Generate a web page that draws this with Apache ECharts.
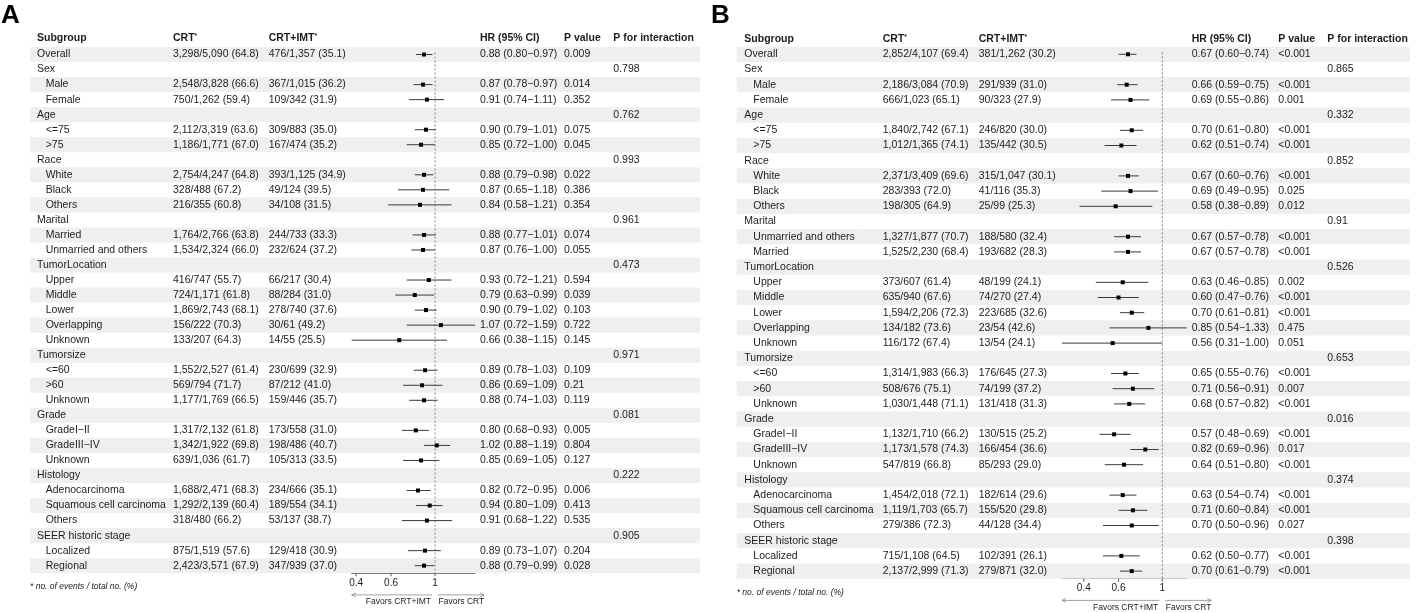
<!DOCTYPE html>
<html><head><meta charset="utf-8">
<script src="https://cdn.jsdelivr.net/npm/echarts@6/dist/echarts.min.js"></script>
<style>html,body{margin:0;padding:0;background:#fff}#c{width:1417px;height:613px}</style>
</head><body><div id="c"></div>
<script>
// ---------------- DATA ----------------
const rowLabelsA = ['Overall','Sex','Male','Female','Age','<=75','>75','Race','White','Black','Others','Marital','Married','Unmarried and others','TumorLocation','Upper','Middle','Lower','Overlapping','Unknown','Tumorsize','<=60','>60','Unknown','Grade','GradeI\u2212II','GradeIII\u2212IV','Unknown','Histology','Adenocarcinoma','Squamous cell carcinoma','Others','SEER historic stage','Localized','Regional'];
const rowLabelsB = ['Overall','Sex','Male','Female','Age','<=75','>75','Race','White','Black','Others','Marital','Unmarried and others','Married','TumorLocation','Upper','Middle','Lower','Overlapping','Unknown','Tumorsize','<=60','>60','Unknown','Grade','GradeI\u2212II','GradeIII\u2212IV','Unknown','Histology','Adenocarcinoma','Squamous cell carcinoma','Others','SEER historic stage','Localized','Regional'];
const rowLevel = [0,0,1,1,0,1,1,0,1,1,1,0,1,1,0,1,1,1,1,1,0,1,1,1,0,1,1,1,0,1,1,1,0,1,1];

const crtA = ['3,298/5,090 (64.8)','','2,548/3,828 (66.6)','750/1,262 (59.4)','','2,112/3,319 (63.6)','1,186/1,771 (67.0)','','2,754/4,247 (64.8)','328/488 (67.2)','216/355 (60.8)','','1,764/2,766 (63.8)','1,534/2,324 (66.0)','','416/747 (55.7)','724/1,171 (61.8)','1,869/2,743 (68.1)','156/222 (70.3)','133/207 (64.3)','','1,552/2,527 (61.4)','569/794 (71.7)','1,177/1,769 (66.5)','','1,317/2,132 (61.8)','1,342/1,922 (69.8)','639/1,036 (61.7)','','1,688/2,471 (68.3)','1,292/2,139 (60.4)','318/480 (66.2)','','875/1,519 (57.6)','2,423/3,571 (67.9)'];
const imtA = ['476/1,357 (35.1)','','367/1,015 (36.2)','109/342 (31.9)','','309/883 (35.0)','167/474 (35.2)','','393/1,125 (34.9)','49/124 (39.5)','34/108 (31.5)','','244/733 (33.3)','232/624 (37.2)','','66/217 (30.4)','88/284 (31.0)','278/740 (37.6)','30/61 (49.2)','14/55 (25.5)','','230/699 (32.9)','87/212 (41.0)','159/446 (35.7)','','173/558 (31.0)','198/486 (40.7)','105/313 (33.5)','','234/666 (35.1)','189/554 (34.1)','53/137 (38.7)','','129/418 (30.9)','347/939 (37.0)'];
const hrA = [0.88,null,0.87,0.91,null,0.90,0.85,null,0.88,0.87,0.84,null,0.88,0.87,null,0.93,0.79,0.90,1.07,0.66,null,0.89,0.86,0.88,null,0.80,1.02,0.85,null,0.82,0.94,0.91,null,0.89,0.88];
const loA = [0.80,null,0.78,0.74,null,0.79,0.72,null,0.79,0.65,0.58,null,0.77,0.76,null,0.72,0.63,0.79,0.72,0.38,null,0.78,0.69,0.74,null,0.68,0.88,0.69,null,0.72,0.80,0.68,null,0.73,0.79];
const hiA = [0.97,null,0.97,1.11,null,1.01,1.00,null,0.98,1.18,1.21,null,1.01,1.00,null,1.21,0.99,1.02,1.59,1.15,null,1.03,1.09,1.03,null,0.93,1.19,1.05,null,0.95,1.09,1.22,null,1.07,0.99];
const pA = ['0.009','','0.014','0.352','','0.075','0.045','','0.022','0.386','0.354','','0.074','0.055','','0.594','0.039','0.103','0.722','0.145','','0.109','0.21','0.119','','0.005','0.804','0.127','','0.006','0.413','0.535','','0.204','0.028'];
const pintA = ['','0.798','','','0.762','','','0.993','','','','0.961','','','0.473','','','','','','0.971','','','','0.081','','','','0.222','','','','0.905','',''];

const crtB = ['2,852/4,107 (69.4)','','2,186/3,084 (70.9)','666/1,023 (65.1)','','1,840/2,742 (67.1)','1,012/1,365 (74.1)','','2,371/3,409 (69.6)','283/393 (72.0)','198/305 (64.9)','','1,327/1,877 (70.7)','1,525/2,230 (68.4)','','373/607 (61.4)','635/940 (67.6)','1,594/2,206 (72.3)','134/182 (73.6)','116/172 (67.4)','','1,314/1,983 (66.3)','508/676 (75.1)','1,030/1,448 (71.1)','','1,132/1,710 (66.2)','1,173/1,578 (74.3)','547/819 (66.8)','','1,454/2,018 (72.1)','1,119/1,703 (65.7)','279/386 (72.3)','','715/1,108 (64.5)','2,137/2,999 (71.3)'];
const imtB = ['381/1,262 (30.2)','','291/939 (31.0)','90/323 (27.9)','','246/820 (30.0)','135/442 (30.5)','','315/1,047 (30.1)','41/116 (35.3)','25/99 (25.3)','','188/580 (32.4)','193/682 (28.3)','','48/199 (24.1)','74/270 (27.4)','223/685 (32.6)','23/54 (42.6)','13/54 (24.1)','','176/645 (27.3)','74/199 (37.2)','131/418 (31.3)','','130/515 (25.2)','166/454 (36.6)','85/293 (29.0)','','182/614 (29.6)','155/520 (29.8)','44/128 (34.4)','','102/391 (26.1)','279/871 (32.0)'];
const hrB = [0.67,null,0.66,0.69,null,0.70,0.62,null,0.67,0.69,0.58,null,0.67,0.67,null,0.63,0.60,0.70,0.85,0.56,null,0.65,0.71,0.68,null,0.57,0.82,0.64,null,0.63,0.71,0.70,null,0.62,0.70];
const loB = [0.60,null,0.59,0.55,null,0.61,0.51,null,0.60,0.49,0.38,null,0.57,0.57,null,0.46,0.47,0.61,0.54,0.31,null,0.55,0.56,0.57,null,0.48,0.69,0.51,null,0.54,0.60,0.50,null,0.50,0.61];
const hiB = [0.74,null,0.75,0.86,null,0.80,0.74,null,0.76,0.95,0.89,null,0.78,0.78,null,0.85,0.76,0.81,1.33,1.00,null,0.76,0.91,0.82,null,0.69,0.96,0.80,null,0.74,0.84,0.96,null,0.77,0.79];
const pB = ['<0.001','','<0.001','0.001','','<0.001','<0.001','','<0.001','0.025','0.012','','<0.001','<0.001','','0.002','<0.001','<0.001','0.475','0.051','','<0.001','0.007','<0.001','','<0.001','0.017','<0.001','','<0.001','<0.001','0.027','','<0.001','<0.001'];
const pintB = ['','0.865','','','0.332','','','0.852','','','','0.91','','','0.526','','','','','','0.653','','','','0.016','','','','0.374','','','','0.398','',''];

const tickValues = [0.4, 0.6, 1];
const tickLabels = ['0.4', '0.6', '1'];

// ---------------- LAYOUT ----------------
const FONT = '"Liberation Sans", Arial, Helvetica, sans-serif';
const TXT = '#1c1c1c';
const FS = 10.5;
const panels = [
  {name:'A', labels:rowLabelsA, crt:crtA, imt:imtA, hr:hrA, lo:loA, hi:hiA, p:pA, pint:pintA,
   L:{grid:{left:351.7, width:123.3, top:47, height:526.2}, letterX:1, sub:37, ind:45.7, crt:173, imt:268.7, hr:480, p:564, pint:613.3, shadeL:30, shadeR:700, headerY:38.3, footY:586.7}},
  {name:'B', labels:rowLabelsB, crt:crtB, imt:imtB, hr:hrB, lo:loB, hi:hiB, p:pB, pint:pintB,
   L:{grid:{left:1062, width:124.7, top:46.7, height:532}, letterX:711, sub:744.3, ind:753.3, crt:882.7, imt:978.7, hr:1191.7, p:1278.3, pint:1327.3, shadeL:736.7, shadeR:1410, headerY:39, footY:592.3}}
];

function txt(x, y, text, opt) {
  opt = opt || {};
  return {type:'text', x:x, y:y, silent:true, style:Object.assign({
    text:text, fill:TXT, fontSize:FS, fontFamily:FONT,
    align:'left', verticalAlign:'middle', textAlign:'left', textVerticalAlign:'middle'}, opt)};
}
function fmt(v){ return v.toFixed(2); }

const grids = [], xAxes = [], yAxes = [], series = [], graphics = [];
panels.forEach((P, k) => {
  const L = P.L;
  const ciLo = P.lo.filter(v => v != null), ciHi = P.hi.filter(v => v != null);
  const xmin = Math.min.apply(null, ciLo), xmax = Math.max.apply(null, ciHi);
  grids.push(Object.assign({containLabel:false, outerBoundsMode:'none'}, L.grid));
  xAxes.push({type:'log', logBase:10, gridIndex:k, min:xmin, max:xmax,
    axisLine:{show:true, lineStyle:{color:'#555', width:1}}, axisTick:{show:false},
    axisLabel:{show:false}, splitLine:{show:false}});
  yAxes.push({type:'category', gridIndex:k, inverse:true, data:P.labels.map((_, i) => String(i)),
    show:false});

  const rowH = L.grid.height / P.labels.length;
  // table rows (background + text)
  series.push({type:'custom', xAxisIndex:k, yAxisIndex:k, z:1, silent:true, clip:false, animation:false,
    data:P.labels.map((_, i) => [1, i]),
    renderItem:function(params, api){
      const i = api.value(1);
      const y = api.coord([1, i])[1];
      const ch = [];
      if (i % 2 === 0) ch.push({type:'rect', shape:{x:L.shadeL, y:y - rowH/2, width:L.shadeR - L.shadeL, height:rowH}, style:{fill:'#eef0ee'}});
      ch.push(txt(rowLevel[i] ? L.ind : L.sub, y, P.labels[i]));
      if (P.crt[i]) ch.push(txt(L.crt, y, P.crt[i]));
      if (P.imt[i]) ch.push(txt(L.imt, y, P.imt[i]));
      if (P.hr[i] != null) ch.push(txt(L.hr, y, fmt(P.hr[i]) + ' (' + fmt(P.lo[i]) + '\u2212' + fmt(P.hi[i]) + ')'));
      if (P.p[i]) ch.push(txt(L.p, y, P.p[i]));
      if (P.pint[i]) ch.push(txt(L.pint, y, P.pint[i]));
      return {type:'group', children:ch};
    }});
  // decorations: reference line, ticks, arrows
  series.push({type:'custom', xAxisIndex:k, yAxisIndex:k, z:2, silent:true, clip:false, animation:false,
    data:[[1, 0]],
    renderItem:function(params, api){
      const ch = [];
      const p1 = api.coord([1, 0]);
      const last = api.coord([1, P.labels.length - 1]);
      const axisY = last[1] + rowH/2;
      ch.push({type:'line', shape:{x1:p1[0], y1:p1[1] - 2, x2:p1[0], y2:axisY}, style:{stroke:'#777', lineWidth:0.9, lineDash:[2,2]}});
      tickValues.forEach((tv, j) => {
        const tx = api.coord([tv, 0])[0];
        ch.push({type:'line', shape:{x1:tx, y1:axisY, x2:tx, y2:axisY + 3}, style:{stroke:'#555', lineWidth:1}});
        ch.push(txt(tx, axisY + 10, tickLabels[j], {align:'center', textAlign:'center', fontSize:10}));
      });
      const xL = api.coord([xmin, 0])[0];
      const ay = axisY + 21.7;
      const ac = '#8a8a8a';
      ch.push({type:'line', shape:{x1:xL, y1:ay, x2:p1[0] - 3, y2:ay}, style:{stroke:ac, lineWidth:0.8}});
      ch.push({type:'polyline', shape:{points:[[xL + 4, ay - 2], [xL, ay], [xL + 4, ay + 2]]}, style:{stroke:ac, lineWidth:0.8, fill:null}});
      const xR = p1[0] + 49;
      ch.push({type:'line', shape:{x1:p1[0] + 3, y1:ay, x2:xR, y2:ay}, style:{stroke:ac, lineWidth:0.8}});
      ch.push({type:'polyline', shape:{points:[[xR - 4, ay - 2], [xR, ay], [xR - 4, ay + 2]]}, style:{stroke:ac, lineWidth:0.8, fill:null}});
      ch.push(txt(p1[0] - 4, ay + 7, 'Favors CRT+IMT', {align:'right', textAlign:'right', fontSize:8.5}));
      ch.push(txt(p1[0] + 3.5, ay + 7, 'Favors CRT', {fontSize:8.5}));
      return {type:'group', children:ch};
    }});
  // CI lines and point estimates
  series.push({type:'custom', xAxisIndex:k, yAxisIndex:k, z:3, silent:true, clip:false, animation:false,
    data:P.hr.map((v, i) => v == null ? null : [v, i, P.lo[i], P.hi[i]]).filter(d => d),
    renderItem:function(params, api){
      const i = api.value(1);
      const c = api.coord([api.value(0), i]);
      const l = api.coord([api.value(2), i]);
      const h = api.coord([api.value(3), i]);
      return {type:'group', children:[
        {type:'line', shape:{x1:l[0], y1:c[1], x2:h[0], y2:c[1]}, style:{stroke:'#3a3a3a', lineWidth:1}},
        {type:'rect', shape:{x:c[0] - 2, y:c[1] - 2, width:4, height:4}, style:{fill:'#000'}}
      ]};
    }});

  // headers & notes
  const hy = L.headerY;
  const bold = {fontWeight:'bold'};
  const rich = {s:{fontSize:6.5, fontWeight:'bold', fontFamily:FONT, fill:TXT, verticalAlign:'top', padding:[0,0,4,0]}, b:{fontSize:FS, fontWeight:'bold', fontFamily:FONT, fill:TXT}};
  graphics.push({type:'text', x:L.letterX, y:16, silent:true, style:{text:P.name, fill:'#000', fontSize:26, fontWeight:'bold', fontFamily:FONT, verticalAlign:'middle', textVerticalAlign:'middle'}});
  graphics.push(txt(L.sub, hy, 'Subgroup', bold));
  graphics.push(txt(L.crt, hy, '{b|CRT}{s|*}', {rich:rich}));
  graphics.push(txt(L.imt, hy, '{b|CRT+IMT}{s|*}', {rich:rich}));
  graphics.push(txt(L.hr, hy, 'HR (95% CI)', bold));
  graphics.push(txt(L.p, hy, 'P value', bold));
  graphics.push(txt(L.pint, hy, 'P for interaction', bold));
  graphics.push(txt(L.shadeL, L.footY, '* no. of events / total no. (%)', {fontStyle:'italic', fontSize:8.5}));
});

const chart = echarts.init(document.getElementById('c'), null, {renderer:'canvas'});
chart.setOption({
  animation:false,
  backgroundColor:'#fff',
  grid:grids, xAxis:xAxes, yAxis:yAxes, series:series,
  graphic:{elements:graphics}
});
</script>
</body></html>
